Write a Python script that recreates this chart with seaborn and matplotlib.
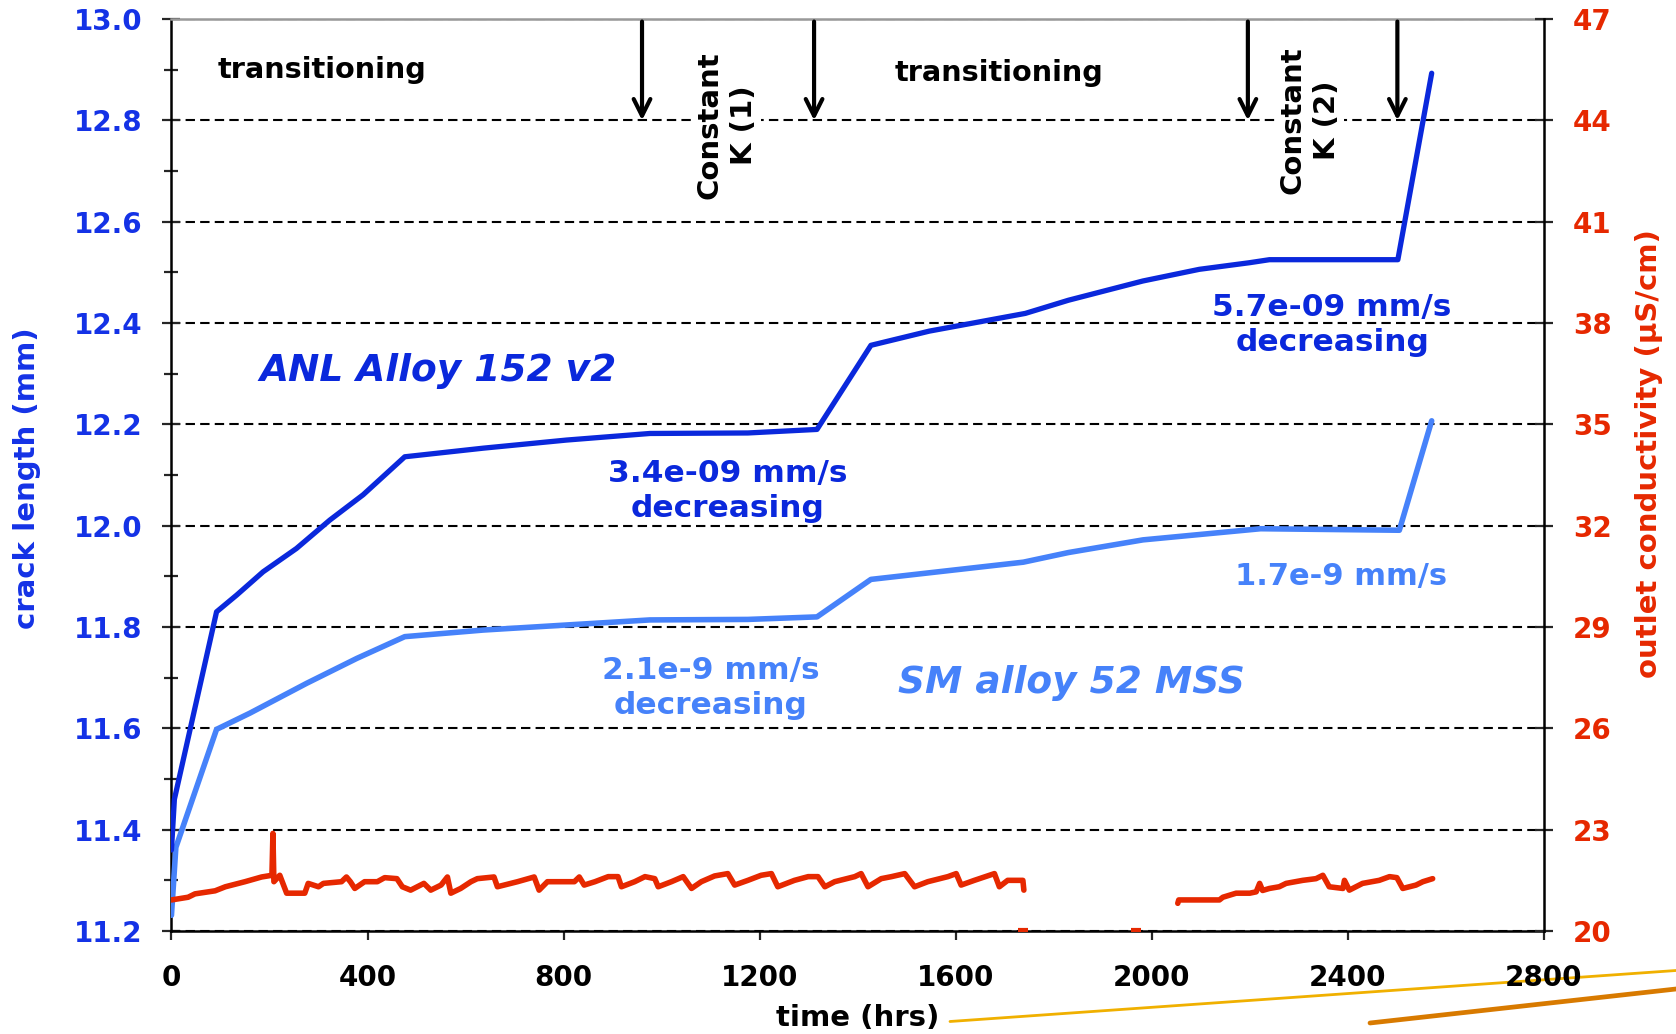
import numpy as np
import pandas as pd
import seaborn as sns
import matplotlib.pyplot as plt
from matplotlib.lines import Line2D
from matplotlib.ticker import MultipleLocator

sns.set_style('ticks')
plt.rcParams['font.family'] = ['DejaVu Sans']
plt.rcParams['font.weight'] = 'bold'
plt.rcParams['text.color'] = 'black'

# ANL Alloy 152 v2 - crack length (mm) vs time (hrs)
anl_hrs = [0, 6, 92, 133, 187, 255, 323, 391, 476, 636, 806, 976, 1176, 1317,
           1427, 1546, 1742, 1830, 1982, 2097, 2199, 2240, 2400, 2502, 2571]
anl_mm = [11.36, 11.46, 11.83, 11.863, 11.909, 11.955, 12.011, 12.061, 12.136, 12.153,
          12.169, 12.182, 12.183, 12.19, 12.356, 12.384, 12.419, 12.445, 12.483, 12.506,
          12.519, 12.525, 12.525, 12.525, 12.893]

# SM alloy 52 MSS - crack length (mm)
sm_hrs = [0, 9, 92, 160, 276, 378, 476, 636, 806, 976, 1176, 1317, 1427, 1738,
          1830, 1982, 2222, 2505, 2571]
sm_mm = [11.231, 11.365, 11.598, 11.63, 11.689, 11.738, 11.781, 11.794, 11.804, 11.814,
         11.815, 11.82, 11.894, 11.928, 11.947, 11.972, 11.994, 11.991, 12.207]

# outlet conductivity (uS/cm), first run segment
cond1_hrs = [0, 34, 48, 89, 110, 150, 184, 205, 207, 209, 221, 235, 272, 279, 300, 310,
             347, 357, 365, 374, 394, 420, 435, 460, 471, 488, 515, 529, 550, 563, 570,
             590, 611, 624, 658, 665, 706, 740, 750, 767, 822, 832, 842, 864, 891, 911,
             918, 945, 966, 986, 993, 1020, 1044, 1061, 1081, 1108, 1135, 1149, 1176,
             1203, 1224, 1237, 1271, 1299, 1319, 1333, 1353, 1394, 1407, 1421, 1448,
             1469, 1496, 1516, 1543, 1584, 1601, 1611, 1638, 1679, 1689, 1706, 1737, 1739]
cond1_val = [20.92, 21.0, 21.1, 21.19, 21.31, 21.46, 21.6, 21.65, 22.89, 21.46, 21.65,
             21.12, 21.12, 21.41, 21.31, 21.41, 21.46, 21.6, 21.46, 21.26, 21.46, 21.46,
             21.58, 21.55, 21.31, 21.21, 21.41, 21.21, 21.36, 21.6, 21.12, 21.26, 21.46,
             21.55, 21.6, 21.31, 21.46, 21.6, 21.21, 21.46, 21.46, 21.6, 21.36, 21.46,
             21.61, 21.61, 21.31, 21.46, 21.61, 21.55, 21.31, 21.46, 21.61, 21.26, 21.46,
             21.63, 21.7, 21.36, 21.5, 21.65, 21.7, 21.31, 21.5, 21.61, 21.61, 21.31,
             21.46, 21.61, 21.7, 21.31, 21.55, 21.61, 21.7, 21.31, 21.46, 21.61, 21.7,
             21.36, 21.5, 21.7, 21.31, 21.5, 21.5, 21.21]

# second run segment
cond2_hrs = [2053, 2055, 2138, 2145, 2172, 2200, 2213, 2220, 2226, 2240, 2260, 2274,
             2308, 2335, 2349, 2362, 2390, 2393, 2403, 2430, 2464, 2485, 2500, 2512,
             2539, 2553, 2573]
cond2_val = [20.82, 20.92, 20.92, 21.0, 21.12, 21.12, 21.16, 21.41, 21.2, 21.26, 21.31,
             21.41, 21.5, 21.55, 21.65, 21.31, 21.26, 21.5, 21.21, 21.41, 21.5, 21.61,
             21.58, 21.26, 21.36, 21.46, 21.55]

# stray readings near zero
dot_hrs = [1737, 1968]
dot_val = [20.03, 20.03]

arrow_hrs = [960, 1311, 2196, 2501]

dark_blue = '#0a28dc'
light_blue = '#4682fa'
tick_blue = '#1432e6'
red = '#e62800'

fig, ax = plt.subplots(figsize=(16.76, 10.34), dpi=100)
fig.subplots_adjust(left=0.1023, right=0.9212, bottom=0.0996, top=0.9816)

sns.lineplot(x=sm_hrs, y=sm_mm, ax=ax, color=light_blue, lw=4, sort=False,
             estimator=None, legend=False, zorder=3)
sns.lineplot(x=anl_hrs, y=anl_mm, ax=ax, color=dark_blue, lw=3.8, sort=False,
             estimator=None, legend=False, zorder=4)

ax.set_xlim(0, 2800)
ax.set_ylim(11.2, 13.0)
ax.xaxis.set_major_locator(MultipleLocator(400))
ax.yaxis.set_major_locator(MultipleLocator(0.2))
ax.yaxis.set_minor_locator(MultipleLocator(0.1))
ax.yaxis.set_major_formatter(plt.FormatStrFormatter('%.1f'))

ax.yaxis.grid(True, which='major', color='black', ls=(0, (4.5, 2.5)), lw=1.5)
ax.yaxis.get_major_ticks()[-1].gridline.set_visible(False)

ax.tick_params(axis='y', which='major', direction='inout', length=13.5, width=1.6,
               labelsize=20, labelcolor=tick_blue, pad=14)
ax.tick_params(axis='y', which='minor', direction='inout', length=10, width=1.6)
ax.tick_params(axis='x', direction='out', length=6.5, width=1.6, labelsize=20,
               labelcolor='black', pad=17)

for s in ['left', 'bottom']:
    ax.spines[s].set_color('black')
    ax.spines[s].set_linewidth(1.8)
ax.spines['top'].set_color('#999999')
ax.spines['top'].set_linewidth(1.8)
ax.spines['right'].set_visible(False)

ax.set_xlabel('time (hrs)', fontsize=21, fontweight='bold', color='black')
ax.xaxis.set_label_coords(0.5, -0.080)
ax.set_ylabel('crack length (mm)', fontsize=21, fontweight='bold', color=tick_blue)
ax.yaxis.set_label_coords(-0.095, 0.497)

# conductivity on the right axis
ax2 = ax.twinx()
sns.lineplot(x=cond1_hrs, y=cond1_val, ax=ax2, color=red, lw=4, sort=False,
             estimator=None, legend=False)
sns.lineplot(x=cond2_hrs, y=cond2_val, ax=ax2, color=red, lw=4, sort=False,
             estimator=None, legend=False)
sns.scatterplot(x=dot_hrs, y=dot_val, ax=ax2, marker='_', s=60, linewidth=3,
                color=red, legend=False)
ax2.set_ylim(20, 47)
ax2.set_yticks(range(20, 48, 3))
ax2.tick_params(axis='y', direction='inout', length=13.5, width=1.6, labelsize=20,
                labelcolor=red, pad=14)
for s in ['left', 'top', 'bottom']:
    ax2.spines[s].set_visible(False)
ax2.spines['right'].set_color('black')
ax2.spines['right'].set_linewidth(1.8)
ax2.set_ylabel('outlet conductivity (µS/cm)', fontsize=21, fontweight='bold', color=red)
ax2.yaxis.set_label_coords(1.066, 0.523)

# annotations
ax.text(308, 12.9, 'transitioning', ha='center', va='center', fontsize=20.7,
        color='black')
ax.text(1688, 12.894, 'transitioning', ha='center', va='center', fontsize=20.7,
        color='black')
for txt, tx, ty in [('Constant\nK (1)', 1132, 12.79), ('Constant\nK (2)', 2322, 12.80)]:
    ax.text(tx, ty, txt, rotation=90, ha='center', va='center', fontsize=21,
            multialignment='center', linespacing=1.3, zorder=5, color='black',
            bbox=dict(boxstyle='square,pad=0.12', fc='white', ec='none'))
for t in arrow_hrs:
    ax.annotate('', xy=(t, 12.80), xytext=(t, 12.995),
                arrowprops=dict(arrowstyle='->,head_length=0.6,head_width=0.3',
                                lw=3, color='black', shrinkA=0, shrinkB=0,
                                mutation_scale=20))

ax.text(544, 12.305, 'ANL Alloy 152 v2', ha='center', va='center', fontsize=27,
        style='italic', color=dark_blue)
ax.text(1135, 12.068, '3.4e-09 mm/s\ndecreasing', ha='center', va='center',
        fontsize=22.5, color=dark_blue, linespacing=1.25)
ax.text(2368, 12.396, '5.7e-09 mm/s\ndecreasing', ha='center', va='center',
        fontsize=22.5, color=dark_blue, linespacing=1.25)
ax.text(2386, 11.9, '1.7e-9 mm/s', ha='center', va='center', fontsize=22,
        color=light_blue)
ax.text(1100, 11.68, '2.1e-9 mm/s\ndecreasing', ha='center', va='center',
        fontsize=22.5, color=light_blue, linespacing=1.25)
ax.text(1836, 11.689, 'SM alloy 52 MSS', ha='center', va='center', fontsize=27,
        style='italic', color=light_blue)

# slide decoration in the bottom right corner
fig.add_artist(Line2D([950 / 1676, 1.0], [1 - 1021.5 / 1034, 1 - 970.5 / 1034],
                      transform=fig.transFigure, color='#f0b000', lw=2, zorder=-1))
fig.add_artist(Line2D([1370 / 1676, 1.0], [1 - 1023 / 1034, 1 - 989 / 1034],
                      transform=fig.transFigure, color='#d87a00', lw=3.4, zorder=-1))

plt.savefig('out.png', dpi=100)
